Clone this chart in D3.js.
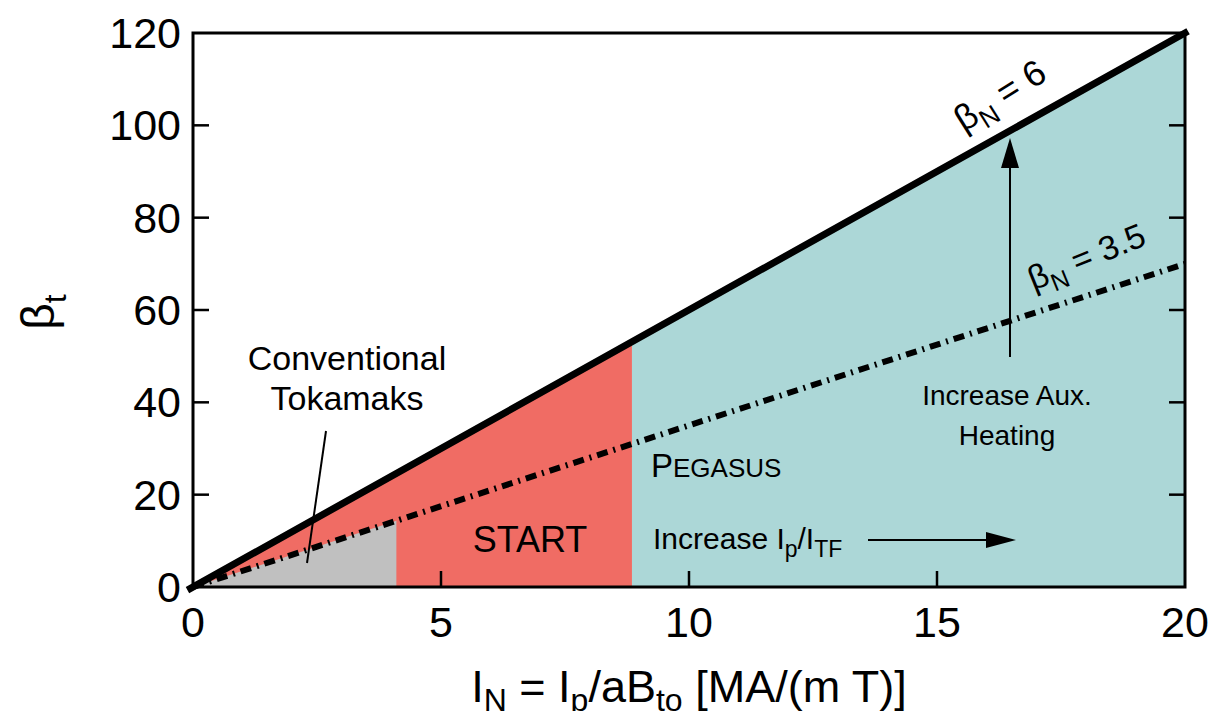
<!DOCTYPE html>
<html>
<head>
<meta charset="utf-8">
<script src="https://cdn.jsdelivr.net/npm/d3@7"></script>
<style>
	body { margin: 0; background: #fff; }
	text { font-family: "Liberation Sans", Arial, sans-serif; fill: #000; }
</style>
</head>
<body>
<svg id="chart" width="1211" height="711"></svg>
<script>
"use strict"

// data
var xTicks = [0, 5, 10, 15, 20];
var yTicks = [0, 20, 40, 60, 80, 100, 120];
var betaNLines = [6, 3.5];            // beta_t = betaN * I_N
var conventionalMax = 4.1;            // end of conventional tokamak region
var startMax = 8.85;                  // end of START region
var pegasusMax = 20;

var pLeft = 193, pRight = 1185, pTop = 33, pBottom = 587;

var svg = d3.select("#chart");
var x = d3.scaleLinear().domain([0, 20]).range([pLeft, pRight]);
var y = d3.scaleLinear().domain([0, 120]).range([pBottom, pTop]);

var area = function(k, x0, x1) {
	return [[x0, 0], [x0, k * x0], [x1, k * x1], [x1, 0]];
}
var poly = d3.line().x(function(d) { return x(d[0]); }).y(function(d) { return y(d[1]); });

// regions
svg.append("path").attr("d", poly(area(betaNLines[0], startMax, pegasusMax)) + "Z").attr("fill", "#acd7d7");
svg.append("path").attr("d", poly(area(betaNLines[0], 0, startMax)) + "Z").attr("fill", "#f06c64");
svg.append("path").attr("d", poly(area(betaNLines[1], 0, conventionalMax)) + "Z").attr("fill", "#c0c0c0");

// frame
svg.append("rect")
	.attr("x", pLeft).attr("y", pTop)
	.attr("width", pRight - pLeft).attr("height", pBottom - pTop)
	.attr("fill", "none").attr("stroke", "#000").attr("stroke-width", 3);

// ticks (inside)
var tl = 16;
xTicks.forEach(function(t) {
	if (t > 0 && t < 20) {
		svg.append("line").attr("x1", x(t)).attr("x2", x(t)).attr("y1", pBottom).attr("y2", pBottom - tl)
			.attr("stroke", "#000").attr("stroke-width", 2.5);
	}
	svg.append("text").attr("x", x(t)).attr("y", pBottom + 50)
		.attr("text-anchor", "middle").style("font-size", "43px").text(t);
});
yTicks.forEach(function(t) {
	if (t > 0 && t < 120) {
		svg.append("line").attr("x1", pLeft).attr("x2", pLeft + tl).attr("y1", y(t)).attr("y2", y(t))
			.attr("stroke", "#000").attr("stroke-width", 2.5);
		svg.append("line").attr("x1", pRight).attr("x2", pRight - tl).attr("y1", y(t)).attr("y2", y(t))
			.attr("stroke", "#000").attr("stroke-width", 2.5);
	}
	svg.append("text").attr("x", pLeft - 12).attr("y", y(t) + 15)
		.attr("text-anchor", "end").style("font-size", "43px").text(t);
});

// beta_N lines
svg.append("line")
	.attr("x1", x(-0.05)).attr("y1", y(-0.3)).attr("x2", x(20)).attr("y2", y(120))
	.attr("stroke", "#000").attr("stroke-width", 7).attr("stroke-linecap", "square");
svg.append("line")
	.attr("x1", x(0)).attr("y1", y(0)).attr("x2", x(20)).attr("y2", y(betaNLines[1] * 20))
	.attr("stroke", "#000").attr("stroke-width", 6).attr("stroke-dasharray", "11,6,2,6");

// rotated line labels
function lineLabel(k, xv, off, extra, size, main, sub, rest) {
	var px = x(xv), py = y(k * xv) - off;
	var ang = Math.atan((k * (pBottom - pTop) / 120) / ((pRight - pLeft) / 20)) * 180 / Math.PI + extra;
	var t = svg.append("text")
		.attr("transform", "translate(" + px + "," + py + ") rotate(" + (-ang) + ")")
		.attr("text-anchor", "middle").style("font-size", size + "px");
	t.append("tspan").text(main);
	t.append("tspan").attr("dy", 9).style("font-size", (size * 0.73) + "px").text(sub);
	t.append("tspan").attr("dy", -9).text(rest);
}
lineLabel(betaNLines[0], 16.4, 27, 3, 36, "\u03b2", "N", " = 6");
lineLabel(betaNLines[1], 18.1, 27, 4, 34, "\u03b2", "N", " = 3.5");

// annotations
svg.append("text").attr("x", 347).attr("y", 370).attr("text-anchor", "middle").style("font-size", "34px").text("Conventional");
svg.append("text").attr("x", 347).attr("y", 410).attr("text-anchor", "middle").style("font-size", "34px").text("Tokamaks");
svg.append("line").attr("x1", 326).attr("y1", 431).attr("x2", 307).attr("y2", 563)
	.attr("stroke", "#000").attr("stroke-width", 2);

svg.append("text").attr("x", 530).attr("y", 552).attr("text-anchor", "middle").style("font-size", "36px").text("START");

var peg = svg.append("text").attr("x", 651).attr("y", 477).style("font-size", "33px");
peg.append("tspan").text("P");
peg.append("tspan").style("font-size", "26px").text("EGASUS");

var inc = svg.append("text").attr("x", 653).attr("y", 549).style("font-size", "30px");
inc.append("tspan").text("Increase I");
inc.append("tspan").attr("dy", 8).style("font-size", "23px").text("p");
inc.append("tspan").attr("dy", -8).text("/I");
inc.append("tspan").attr("dy", 8).style("font-size", "23px").text("TF");

svg.append("line").attr("x1", 868).attr("y1", 540).attr("x2", 990).attr("y2", 540)
	.attr("stroke", "#000").attr("stroke-width", 2);
svg.append("path").attr("d", "M986,532 L1016,540 L986,548 Z").attr("fill", "#000");

svg.append("text").attr("x", 1007).attr("y", 405).attr("text-anchor", "middle").style("font-size", "28px").text("Increase Aux.");
svg.append("text").attr("x", 1007).attr("y", 445).attr("text-anchor", "middle").style("font-size", "28px").text("Heating");
svg.append("line").attr("x1", 1010).attr("y1", 357).attr("x2", 1010).attr("y2", 165)
	.attr("stroke", "#000").attr("stroke-width", 2);
svg.append("path").attr("d", "M1001,168 L1010,138 L1019,168 Z").attr("fill", "#000");

// axis titles
var xt = svg.append("text").attr("x", 689).attr("y", 702).attr("text-anchor", "middle").style("font-size", "45px");
xt.append("tspan").text("I");
xt.append("tspan").attr("dy", 9).style("font-size", "32px").text("N");
xt.append("tspan").attr("dy", -9).text(" = I");
xt.append("tspan").attr("dy", 9).style("font-size", "32px").text("p");
xt.append("tspan").attr("dy", -9).text("/aB");
xt.append("tspan").attr("dy", 9).style("font-size", "32px").text("to");
xt.append("tspan").attr("dy", -9).text(" [MA/(m T)]");

var yt = svg.append("text").attr("transform", "translate(54,312) rotate(-90)").attr("text-anchor", "middle").style("font-size", "46px");
yt.append("tspan").text("\u03b2");
yt.append("tspan").attr("dy", 12).style("font-size", "32px").text("t");
</script>
</body>
</html>
